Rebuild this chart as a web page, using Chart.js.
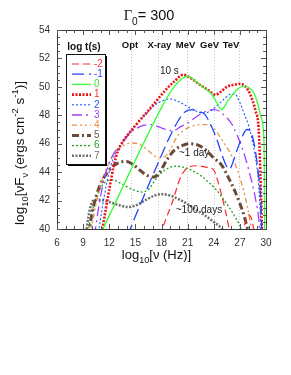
<!DOCTYPE html>
<html><head><meta charset="utf-8">
<script src="https://cdn.jsdelivr.net/npm/chart.js@4"></script>
<style>html,body{margin:0;padding:0;background:#fff}#wrap{width:291px;height:375px;position:relative}</style>
</head><body><div id="wrap"><canvas id="c" width="291" height="375"></canvas></div>
<script>
// ---- data (log10 nu [Hz] , log10 nuFnu) ----
const seriesNames = ['-2','-1','0','1','2','3','4','5','6','7'];
const nu_m2 = [17.8,18.5,19.2,20.1,20.7,21.3,22.0,22.7,23.5,24.0,24.5,24.9,25.3,25.7,25.9,26.5,27.2,27.7,28.0,28.4,28.7];
const f_m2  = [39.5,40.7,41.8,43.5,44.15,44.4,44.45,44.4,44.3,44.15,43.3,42.4,41.4,40.2,39.5,null,39.5,40.6,41.0,40.6,39.5];
const nu_m1 = [14.1,15.0,15.9,16.8,17.8,18.8,19.9,20.6,21.5,22.3,23.0,23.6,24.3,24.9,25.4,25.8,26.2,26.7,27.2,27.8,28.2,28.7,29.1,29.4,29.55];
const f_m1  = [39.5,40.9,42.2,43.5,44.9,46.3,47.6,48.2,48.4,48.25,48.05,47.4,46.4,45.3,44.5,44.2,44.7,45.6,46.4,47.0,46.9,45.8,44.0,42.0,39.5];
const nu_0  = [11.2,18.4,19.5,20.3,21.0,21.8,22.6,23.6,24.3,24.9,25.6,26.3,27.0,27.6,28.0,28.6,29.0,29.35,29.7,29.8,29.85];
const f_0   = [39.9,49.0,50.05,50.55,50.75,50.45,50.05,49.6,48.95,48.4,49.0,49.55,49.95,50.05,49.95,49.6,48.9,48.05,46.9,45.0,39.5];
const nu_1  = [11.1,11.6,12.1,12.5,13.0,13.5,14.3,15.3,16.3,17.4,18.5,19.5,20.5,21.4,22.4,23.3,24.2,24.8,25.5,26.3,27.0,27.6,28.2,28.8,29.15,29.35,29.55];
const f_1   = [39.5,41.4,43.1,44.4,45.5,46.1,46.75,47.5,48.2,49.0,49.8,50.4,50.85,50.6,50.15,49.8,49.45,49.65,50.0,50.15,50.2,50.05,49.45,48.3,47.1,44.0,39.5];
const nu_2  = [10.7,11.2,11.7,12.2,12.8,13.5,14.3,15.3,16.3,17.3,18.2,19.0,20.0,21.0,22.0,22.8,23.6,24.5,25.3,26.0,26.4,27.0,27.5,28.0,28.4,28.8,29.1,29.35,29.45];
const f_2   = [39.5,41.5,43.2,44.5,45.4,46.0,46.75,47.5,48.15,48.75,49.05,49.15,48.95,48.6,48.3,48.15,48.3,48.75,49.2,49.5,49.5,48.9,48.1,47.3,46.3,45.0,43.5,41.0,39.5];
const nu_3  = [10.3,10.8,11.3,11.9,12.6,13.4,14.3,15.2,16.0,16.8,17.6,18.5,19.3,20.2,21.0,22.0,23.0,24.0,24.6,25.3,26.1,27.2,28.0,28.8,29.2,29.3];
const f_3   = [39.5,41.6,43.2,44.5,45.4,46.0,46.7,47.1,47.3,47.35,47.2,47.0,46.9,47.2,47.45,47.9,48.25,48.4,48.3,47.95,47.35,45.8,44.2,42.1,40.5,39.5];
const nu_4  = [9.8,10.3,10.8,11.4,12.1,12.9,13.7,14.5,15.3,16.1,16.9,17.7,18.4,19.0,19.8,20.7,21.6,22.5,23.3,24.0,24.9,26.1,27.0,27.6,28.1,28.4];
const f_4   = [39.5,41.2,42.6,43.8,44.8,45.5,45.9,46.05,46.0,45.7,45.3,45.0,45.1,45.6,46.5,47.0,47.25,47.35,47.35,47.1,46.3,45.1,43.6,42.3,40.8,39.5];
const nu_5  = [9.6,10.0,10.5,11.1,11.8,12.6,13.4,14.0,14.8,15.6,16.4,17.1,17.8,18.6,19.4,20.3,21.3,22.2,23.1,24.0,24.9,25.7,26.4,27.0,27.5,28.0];
const f_5   = [39.5,41.0,42.3,43.3,44.0,44.5,44.72,44.75,44.5,44.1,43.75,43.65,44.0,44.85,45.5,45.85,46.0,45.9,45.55,45.0,44.5,43.6,42.7,41.8,40.9,39.7];
const nu_6  = [9.5,9.9,10.4,11.0,11.7,12.4,13.2,14.1,15.0,15.8,16.6,17.4,18.2,19.0,19.7,20.5,21.4,22.4,23.4,24.3,25.1,25.8,26.4,27.0,27.4];
const f_6   = [39.5,40.9,42.0,42.9,43.35,43.45,43.25,42.95,42.7,42.6,42.85,43.55,44.05,44.35,44.42,44.35,44.15,43.8,43.3,42.75,42.1,41.5,40.9,40.25,39.6];
const nu_7  = [9.3,9.6,9.9,10.4,11.0,12.0,13.0,14.2,15.2,16.2,17.2,18.1,19.0,20.1,21.0,22.0,23.0,24.0,24.9,25.3];
const f_7   = [39.5,40.8,41.7,42.05,42.05,41.9,41.7,41.55,41.7,42.05,42.35,42.45,42.35,42.06,41.75,41.35,40.95,40.5,40.05,39.7];

const xTicks = [6,9,12,15,18,21,24,27,30];
const yTicks = [40,42,44,46,48,50,52,54];
const bandNames = ['Opt','X-ray','MeV','GeV','TeV'];
const bandLabelPos = [14.38,17.77,20.76,23.52,25.99];
const bandLines = [14.5,17.6,20.9,24.0,26.85];
const notes = [['10 s',18.9,51.1],['~1 day',21.75,45.3],['~100 days',22.3,41.35]];

// ---- styles ----
const styles = [
  {c:'#ff2a2a', w:1.2, d:[7,4]},
  {c:'#2244ff', w:1.3, d:[12,5]},
  {c:'#33ff33', w:1.3, d:[]},
  {c:'#ee1111', w:2.6, d:[2,1.5]},
  {c:'#2255ff', w:1.1, d:[2,2]},
  {c:'#a040ff', w:1.3, d:[10,4,2,4]},
  {c:'#e8904a', w:1.3, d:[5,3,2,3,2,3]},
  {c:'#6b4a3a', w:3.0, d:[7,3,2,3]},
  {c:'#22a022', w:1.3, d:[2,2]},
  {c:'#707070', w:2.6, d:[2,1.5]}
];
const labelColors = ['#ff3030','#3050ff','#33dd33','#ff3030','#3050ff','#a040ff','#e8904a','#6b5a50','#22a022','#707070'];
const nus = [nu_m2,nu_m1,nu_0,nu_1,nu_2,nu_3,nu_4,nu_5,nu_6,nu_7];
const fs  = [f_m2,f_m1,f_0,f_1,f_2,f_3,f_4,f_5,f_6,f_7];

const datasets = seriesNames.map((n,i)=>({
  label:n,
  data: nus[i].map((x,j)=>({x:x, y:fs[i][j]})),
  showLine:true, pointRadius:0, fill:false,
  borderColor:styles[i].c, borderWidth:styles[i].w, borderDash:styles[i].d,
  cubicInterpolationMode:'monotone', spanGaps:false
}));

const SANS = '"Liberation Sans", Arial, sans-serif';
function drawRich(ctx, segs, x, y, size, align){
  let w=0;
  const items = segs.map(s=>{
    const m=s[1]||0; const sz = m? size*0.7 : size;
    const f = (s[2]||'') + ' ' + sz + 'px ' + (s[3]||SANS);
    ctx.font=f; const ww=ctx.measureText(s[0]).width; w+=ww;
    return {t:s[0],m,f,ww};
  });
  let cx = align==='center' ? x-w/2 : x;
  ctx.textAlign='left'; ctx.textBaseline='alphabetic';
  items.forEach(it=>{
    ctx.font=it.f;
    const dy = it.m===1 ? size*0.32 : (it.m===2 ? -size*0.42 : 0);
    ctx.fillText(it.t, cx, y+dy); cx+=it.ww;
  });
}

const decor = {
  id:'decor',
  beforeDatasetsDraw(chart){
    const {ctx, chartArea:a, scales:{x}} = chart;
    ctx.save();
    ctx.strokeStyle='#c8c8c8'; ctx.lineWidth=1; ctx.setLineDash([1,2]);
    bandLines.forEach(v=>{
      const px=Math.round(x.getPixelForValue(v))+0.5;
      ctx.beginPath(); ctx.moveTo(px,a.top); ctx.lineTo(px,a.bottom); ctx.stroke();
    });
    ctx.restore();
  },
  afterDraw(chart){
    const {ctx, chartArea:a, scales:{x,y}} = chart;
    ctx.save();
    // frame
    ctx.strokeStyle='#333'; ctx.lineWidth=1; ctx.setLineDash([]);
    ctx.strokeRect(Math.round(a.left)+0.5, Math.round(a.top)+0.5, Math.round(a.right-a.left), Math.round(a.bottom-a.top));
    // inward ticks
    ctx.strokeStyle='#555';
    for(let v=6; v<=30; v+=1){
      const px=Math.round(x.getPixelForValue(v))+0.5; const L = (v%3===0)?5:3;
      ctx.beginPath(); ctx.moveTo(px,a.bottom); ctx.lineTo(px,a.bottom-L);
      ctx.moveTo(px,a.top); ctx.lineTo(px,a.top+L); ctx.stroke();
    }
    for(let v=40; v<=54; v+=0.5){
      const py=Math.round(y.getPixelForValue(v))+0.5; const L = (v%2===0)?5:3;
      ctx.beginPath(); ctx.moveTo(a.left,py); ctx.lineTo(a.left+L,py);
      ctx.moveTo(a.right,py); ctx.lineTo(a.right-L,py); ctx.stroke();
    }
    // title
    ctx.fillStyle='#111';
    drawRich(ctx, [['Γ',0,'','"Liberation Serif", serif'],['0',1],['= 300',0]], 149, 20, 14.5, 'center');
    // x title
    drawRich(ctx, [['log',0],['10',1],['[ν (Hz)]',0]], 156.5, 259, 13, 'center');
    // y title
    ctx.save(); ctx.translate(24, 153); ctx.rotate(-Math.PI/2);
    drawRich(ctx, [['log',0],['10',1],['[νF',0],['ν',1],[' (ergs cm',0],['-2',2],[' s',0],['-1',2],[')]',0]], 0, 0, 13.5, 'center');
    ctx.restore();
    // band labels
    ctx.font='bold 9.5px '+SANS; ctx.textAlign='center'; ctx.textBaseline='middle'; ctx.fillStyle='#111';
    bandNames.forEach((n,i)=>ctx.fillText(n, x.getPixelForValue(bandLabelPos[i]), 45));
    // notes
    ctx.font='10px '+SANS; ctx.fillStyle='#222';
    notes.forEach(n=>ctx.fillText(n[0], x.getPixelForValue(n[1]), y.getPixelForValue(n[2])));
    // legend
    const bx=66, by=54, bw=39, bh=110;
    ctx.fillStyle='#000'; ctx.fillRect(bx+2, by+2, bw, bh);
    ctx.fillStyle='#fff'; ctx.fillRect(bx, by, bw, bh);
    ctx.strokeStyle='#111'; ctx.lineWidth=1; ctx.strokeRect(bx+0.5, by+0.5, bw, bh);
    ctx.font='bold 10px '+SANS; ctx.fillStyle='#111'; ctx.textAlign='center';
    ctx.fillText('log t(s)', 84, 47);
    chart.data.datasets.forEach((ds,i)=>{
      const ry = 64 + i*10.2;
      ctx.save(); ctx.strokeStyle=ds.borderColor; ctx.lineWidth=ds.borderWidth; ctx.setLineDash(ds.borderDash||[]);
      ctx.beginPath(); ctx.moveTo(72, ry); ctx.lineTo(91, ry); ctx.stroke(); ctx.restore();
      ctx.font='10px '+SANS; ctx.textAlign='left'; ctx.fillStyle=labelColors[i];
      ctx.fillText(ds.label, 94, ry);
    });
    ctx.restore();
  }
};

new Chart(document.getElementById('c'), {
  type:'scatter',
  data:{datasets},
  options:{
    responsive:false, animation:false, devicePixelRatio:1,
    layout:{padding:{left:0, right:25, top:30, bottom:0}},
    plugins:{legend:{display:false}, tooltip:{enabled:false}},
    scales:{
      x:{type:'linear', min:6, max:30,
         afterFit:s=>{s.height=146;},
         afterBuildTicks:s=>{s.ticks = xTicks.map(v=>({value:v}));},
         grid:{display:false, drawTicks:false}, border:{display:false},
         ticks:{padding:8, color:'#333', font:{family:SANS, size:10}, maxRotation:0, autoSkip:false}},
      y:{type:'linear', min:40, max:54,
         afterFit:s=>{s.width=57;},
         afterBuildTicks:s=>{s.ticks = yTicks.map(v=>({value:v}));},
         grid:{display:false, drawTicks:false}, border:{display:false},
         ticks:{padding:7, color:'#333', font:{family:SANS, size:10}, autoSkip:false}}
    }
  },
  plugins:[decor]
});
</script>
</body></html>
